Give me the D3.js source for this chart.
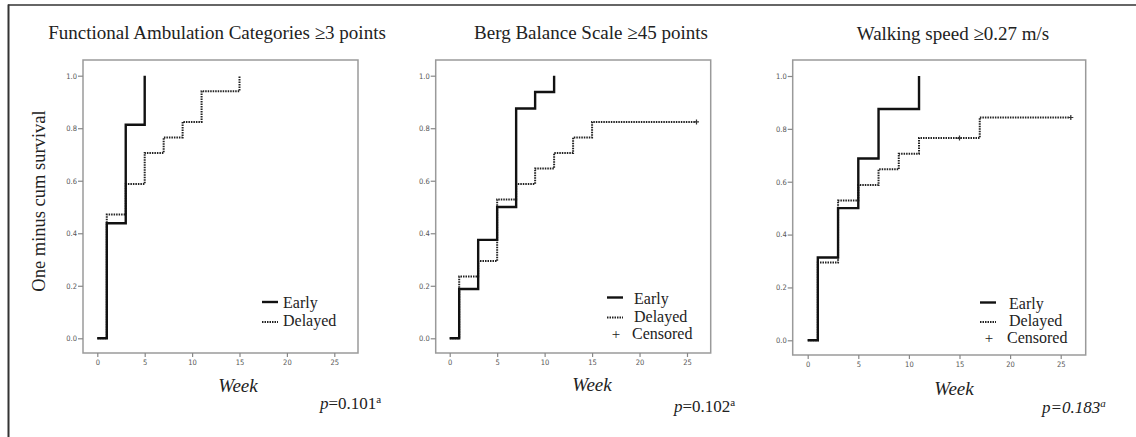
<!DOCTYPE html>
<html><head><meta charset="utf-8">
<script src="https://cdn.jsdelivr.net/npm/d3@7"></script>
<style>
body{margin:0;background:#fff;}
svg{display:block;}
</style></head>
<body>
<svg id="chart" width="1136" height="437"></svg>
<script>
// ---- data ----
const panelTitles = ["Functional Ambulation Categories \u22653 points", "Berg Balance Scale \u226545 points", "Walking speed \u22650.27 m/s"];
const pValues = ["0.101", "0.102", "0.183"];
const xTicks = [0, 5, 10, 15, 20, 25];
const yTicks = [0.0, 0.2, 0.4, 0.6, 0.8, 1.0];
const seriesNames = ["Early", "Delayed"];

// Panel 1: Functional Ambulation Categories
const fac_early_week = [0, 1, 3, 5];
const fac_early_val  = [0, 0.438, 0.813, 1.0];
const fac_delayed_week = [0, 1, 3, 5, 7, 9, 11, 15];
const fac_delayed_val  = [0, 0.471, 0.588, 0.706, 0.765, 0.824, 0.941, 1.0];
const fac_censored_week = [];
const fac_censored_val = [];

// Panel 2: Berg Balance Scale
const bbs_early_week = [0, 1, 3, 5, 7, 9, 11];
const bbs_early_val  = [0, 0.188, 0.375, 0.5, 0.875, 0.938, 1.0];
const bbs_delayed_week = [0, 1, 3, 5, 7, 9, 11, 13, 15, 26];
const bbs_delayed_val  = [0, 0.235, 0.294, 0.529, 0.588, 0.647, 0.706, 0.765, 0.824, 0.824];
const bbs_censored_week = [26];
const bbs_censored_val = [0.824];

// Panel 3: Walking speed
const ws_early_week = [0, 1, 3, 5, 7, 11];
const ws_early_val  = [0, 0.313, 0.5, 0.688, 0.875, 1.0];
const ws_delayed_week = [0, 1, 3, 5, 7, 9, 11, 17, 26];
const ws_delayed_val  = [0, 0.294, 0.529, 0.588, 0.647, 0.706, 0.765, 0.843, 0.843];
const ws_censored_week = [15, 26];
const ws_censored_val = [0.765, 0.843];

// ---- layout (positions only) ----
const layout = [
  {box:[83,60,358,353],  x0:97.3, x25:334.3, y0:338.3, y1:75.7, title:[217,39], week:[238,391.5], p:[320,409], legend:{lineX:262, textX:283, ys:[308,326], cens:false}, pItalicAll:false},
  {box:[435.7,60,710.7,353], x0:449.7, x25:687, y0:338.3, y1:75.7, title:[591,39], week:[592,391], p:[674,411.5], legend:{lineX:607, textX:634, ys:[303.5,321.5,338.5], cens:true}, pItalicAll:false},
  {box:[792.7,60,1085.7,355], x0:807.7, x25:1060.7, y0:340.3, y1:76, title:[953,39.5], week:[954,395], p:[1042,413], legend:{lineX:980, textX:1009, ys:[308.5,326,342.5], cens:true}, pItalicAll:true}
];

const panels = [
  {early:[fac_early_week, fac_early_val], delayed:[fac_delayed_week, fac_delayed_val], cens:[fac_censored_week, fac_censored_val]},
  {early:[bbs_early_week, bbs_early_val], delayed:[bbs_delayed_week, bbs_delayed_val], cens:[bbs_censored_week, bbs_censored_val]},
  {early:[ws_early_week, ws_early_val], delayed:[ws_delayed_week, ws_delayed_val], cens:[ws_censored_week, ws_censored_val]}
];

const svg = d3.select("#chart");
const serif = "'Liberation Serif','Times New Roman',serif";
const tickFont = "'Liberation Sans Narrow','DejaVu Sans Condensed','Liberation Sans',sans-serif";

// outer frame
svg.append("line").attr("x1",8.5).attr("x2",8.5).attr("y1",4.5).attr("y2",437).attr("stroke","#333").attr("stroke-width",2);
svg.append("line").attr("x1",8).attr("x2",1136).attr("y1",5).attr("y2",5).attr("stroke","#333").attr("stroke-width",1.6);

// y axis title
svg.append("text").attr("transform","translate(45,201) rotate(-90)")
  .attr("text-anchor","middle").attr("font-family",serif).attr("font-size",18.5).attr("fill","#222")
  .text("One minus cum survival");

panels.forEach((pd, i) => {
  const L = layout[i];
  const g = svg.append("g");
  const x = d3.scaleLinear().domain([0,25]).range([L.x0, L.x25]);
  const y = d3.scaleLinear().domain([0,1]).range([L.y0, L.y1]);
  const [bx0,by0,bx1,by1] = L.box;

  // box
  g.append("rect").attr("x",bx0).attr("y",by0).attr("width",bx1-bx0).attr("height",by1-by0)
    .attr("fill","none").attr("stroke","#9a9a9a").attr("stroke-width",1.5);

  // y axis
  const yAxis = d3.axisLeft(y).tickValues(yTicks).tickFormat(d3.format(".1f")).tickSize(5).tickPadding(1);
  const ya = g.append("g").attr("transform",`translate(${bx0},0)`).call(yAxis);
  // x axis
  const xAxis = d3.axisBottom(x).tickValues(xTicks).tickFormat(d3.format("d")).tickSize(4).tickPadding(3);
  const xa = g.append("g").attr("transform",`translate(0,${by1})`).call(xAxis);
  [ya, xa].forEach(a => {
    a.select(".domain").remove();
    a.selectAll(".tick line").attr("stroke","#888").attr("stroke-width",1.2);
    a.selectAll(".tick text").attr("fill","#555").attr("font-family",tickFont).attr("font-size",7.5);
  });

  const line = d3.line().x(d=>x(d[0])).y(d=>y(d[1])).curve(d3.curveStepAfter);
  const delayedPts = d3.zip(pd.delayed[0], pd.delayed[1]);
  const earlyPts = d3.zip(pd.early[0], pd.early[1]);
  g.append("path").attr("d", line(delayedPts)).attr("fill","none").attr("stroke","#222")
    .attr("stroke-width",2).attr("stroke-dasharray","1.5,1");
  g.append("path").attr("d", line(earlyPts)).attr("fill","none").attr("stroke","#111")
    .attr("stroke-width",2.4);

  // censored marks
  const cens = d3.zip(pd.cens[0], pd.cens[1]);
  cens.forEach(c => {
    const cx = x(c[0]), cy = y(c[1]);
    g.append("path").attr("d",`M${cx-2.5},${cy}H${cx+2.5}M${cx},${cy-2.5}V${cy+2.5}`)
      .attr("stroke","#333").attr("stroke-width",1.2);
  });

  // title
  g.append("text").attr("x",L.title[0]).attr("y",L.title[1]).attr("text-anchor","middle")
    .attr("font-family",serif).attr("font-size",19).attr("fill","#222").text(panelTitles[i]);
  // Week
  g.append("text").attr("x",L.week[0]).attr("y",L.week[1]).attr("text-anchor","middle")
    .attr("font-family",serif).attr("font-style","italic").attr("font-size",19).attr("fill","#222").text("Week");

  // legend
  const lg = L.legend;
  g.append("line").attr("x1",lg.lineX).attr("x2",lg.lineX+16).attr("y1",lg.ys[0]-6).attr("y2",lg.ys[0]-6)
    .attr("stroke","#111").attr("stroke-width",2.4);
  g.append("line").attr("x1",lg.lineX).attr("x2",lg.lineX+16).attr("y1",lg.ys[1]-4).attr("y2",lg.ys[1]-4)
    .attr("stroke","#222").attr("stroke-width",2).attr("stroke-dasharray","1.5,1");
  g.append("text").attr("x",lg.textX).attr("y",lg.ys[0]).attr("font-family",serif).attr("font-size",16).attr("fill","#222").text(seriesNames[0]);
  g.append("text").attr("x",lg.textX).attr("y",lg.ys[1]).attr("font-family",serif).attr("font-size",16).attr("fill","#222").text(seriesNames[1]);
  if (lg.cens) {
    g.append("text").attr("x",lg.lineX+9).attr("y",lg.ys[2]).attr("text-anchor","middle").attr("font-family",serif).attr("font-size",15).attr("fill","#222").text("+");
    g.append("text").attr("x",lg.textX-2).attr("y",lg.ys[2]).attr("font-family",serif).attr("font-size",16).attr("fill","#222").text("Censored");
  }

  // p value
  const pt = g.append("text").attr("x",L.p[0]).attr("y",L.p[1]).attr("font-family",serif).attr("font-size",17).attr("fill","#222");
  if (L.pItalicAll) pt.attr("font-style","italic");
  pt.append("tspan").attr("font-style","italic").text("p");
  pt.append("tspan").text("=" + pValues[i]);
  pt.append("tspan").attr("font-size",11).attr("dy",-6).text("a");
});
</script>
</body></html>
